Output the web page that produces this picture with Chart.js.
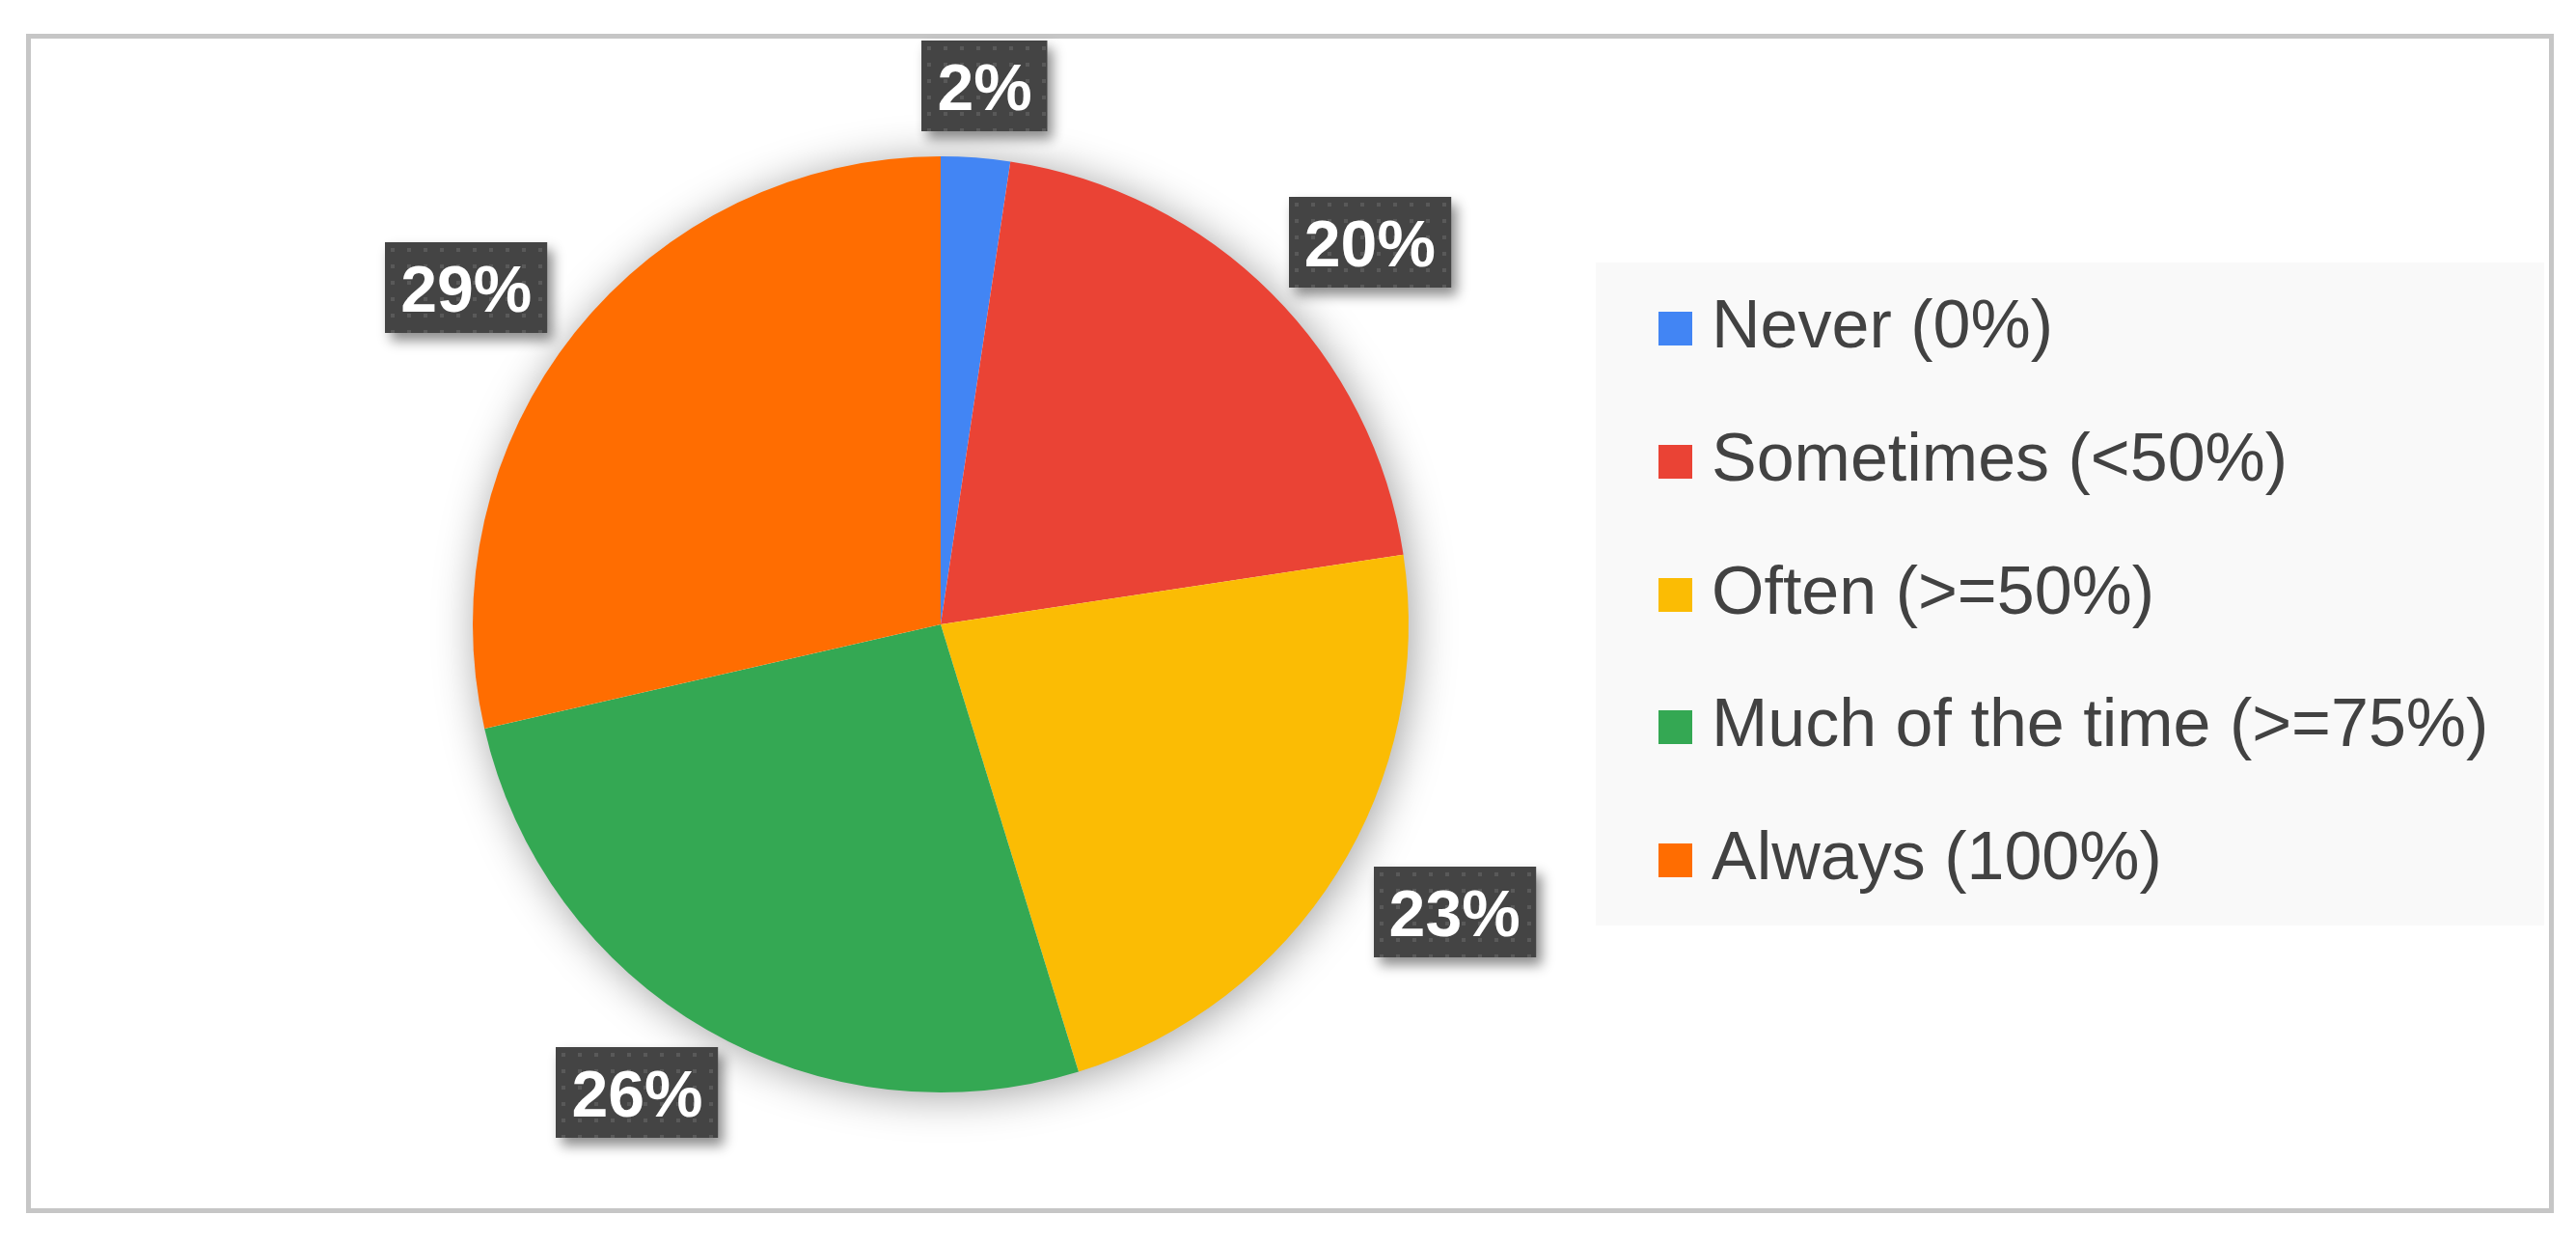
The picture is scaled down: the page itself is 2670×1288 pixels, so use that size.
<!DOCTYPE html>
<html>
<head>
<meta charset="utf-8">
<script src="https://cdn.jsdelivr.net/npm/chart.js@4.4.1/dist/chart.umd.min.js"></script>
<style>
  html, body { margin: 0; padding: 0; background: #ffffff; }
  #frame {
    position: absolute; left: 27px; top: 35px; width: 2620px; height: 1222px;
    box-sizing: border-box; border: 5px solid #c6c6c6;
  }
  #chart { position: absolute; left: 0; top: 0; }
</style>
</head>
<body>
<div id="frame"></div>
<canvas id="chart" width="2670" height="1288"></canvas>
<script>
const categories = [
  "Never (0%)",
  "Sometimes (<50%)",
  "Often (>=50%)",
  "Much of the time (>=75%)",
  "Always (100%)",
];
const responses = [2, 17, 19, 22, 24];
const sliceColors = ["#4285f4", "#ea4335", "#fbbc04", "#34a853", "#ff6d01"];

const FONT = '"Liberation Sans", Arial, Helvetica, sans-serif';

function dotPattern(ctx) {
  const tile = document.createElement("canvas");
  tile.width = 17;
  tile.height = 17;
  const t = tile.getContext("2d");
  t.fillStyle = "#444444";
  t.fillRect(0, 0, 17, 17);
  t.fillStyle = "#595959";
  t.fillRect(6, 6, 4, 4);
  return ctx.createPattern(tile, "repeat");
}

// soft shadow under the whole pie
const pieShadow = {
  id: "pieShadow",
  beforeDatasetsDraw(chart) {
    const arc = chart.getDatasetMeta(0).data[0];
    if (!arc) return;
    const { x, y, outerRadius } = arc.getProps(["x", "y", "outerRadius"], true);
    const ctx = chart.ctx;
    ctx.save();
    ctx.shadowColor = "rgba(0, 0, 0, 0.38)";
    ctx.shadowBlur = 45;
    ctx.shadowOffsetX = 4;
    ctx.shadowOffsetY = 4;
    ctx.beginPath();
    ctx.arc(x, y, outerRadius - 1, 0, Math.PI * 2);
    ctx.fillStyle = "#ffffff";
    ctx.fill();
    ctx.restore();
  },
};

// dark percentage tags outside each slice
const percentTags = {
  id: "percentTags",
  afterDatasetsDraw(chart) {
    const ctx = chart.ctx;
    const values = chart.data.datasets[0].data;
    const total = values.reduce((a, b) => a + b, 0);
    const pattern = dotPattern(ctx);
    ctx.save();
    ctx.font = `bold 68px ${FONT}`;
    chart.getDatasetMeta(0).data.forEach((arc, i) => {
      const { x, y, startAngle, endAngle, outerRadius } = arc.getProps(
        ["x", "y", "startAngle", "endAngle", "outerRadius"], true);
      const mid = (startAngle + endAngle) / 2;
      const text = `${Math.round((values[i] / total) * 100)}%`;
      const w = ctx.measureText(text).width + 32;
      const h = 94;
      // tags sit on an ellipse a bit wider than the pie
      const cx = x + Math.cos(mid) * (outerRadius + 60 + w / 2);
      const cy = y + Math.sin(mid) * (outerRadius + 28 + h / 2);
      const left = Math.round(cx - w / 2);
      const top = Math.round(cy - h / 2);

      ctx.save();
      ctx.shadowColor = "rgba(0, 0, 0, 0.45)";
      ctx.shadowBlur = 12;
      ctx.shadowOffsetX = 6;
      ctx.shadowOffsetY = 8;
      ctx.fillStyle = "#444444";
      ctx.fillRect(left, top, w, h);
      ctx.restore();

      ctx.save();
      ctx.translate(left, top);
      ctx.fillStyle = pattern;
      ctx.fillRect(0, 0, w, h);
      ctx.restore();

      ctx.fillStyle = "#ffffff";
      ctx.textAlign = "center";
      ctx.textBaseline = "alphabetic";
      ctx.fillText(text, cx, cy + 25);
    });
    ctx.restore();
  },
};

// grey legend panel on the right
const legendPanel = {
  id: "legendPanel",
  afterDraw(chart) {
    const ctx = chart.ctx;
    const colors = chart.data.datasets[0].backgroundColor;
    ctx.save();
    ctx.fillStyle = "#f9f9f9";
    ctx.fillRect(1654, 272, 983, 687);
    ctx.font = `70px ${FONT}`;
    ctx.textAlign = "left";
    ctx.textBaseline = "alphabetic";
    chart.data.labels.forEach((label, i) => {
      const rowY = 340 + i * 137.75;
      ctx.fillStyle = colors[i];
      ctx.fillRect(1719, Math.round(rowY - 17), 35, 35);
      ctx.fillStyle = "#424242";
      ctx.fillText(label, 1774, rowY + 20);
    });
    ctx.restore();
  },
};

new Chart(document.getElementById("chart"), {
  type: "pie",
  data: {
    labels: categories,
    datasets: [
      {
        data: responses,
        backgroundColor: sliceColors,
        borderWidth: 0,
      },
    ],
  },
  options: {
    responsive: false,
    animation: false,
    layout: {
      padding: { left: 490, right: 1210, top: 162, bottom: 156 },
    },
    plugins: {
      legend: { display: false },
      tooltip: { enabled: false },
    },
  },
  plugins: [pieShadow, percentTags, legendPanel],
});
</script>
</body>
</html>
